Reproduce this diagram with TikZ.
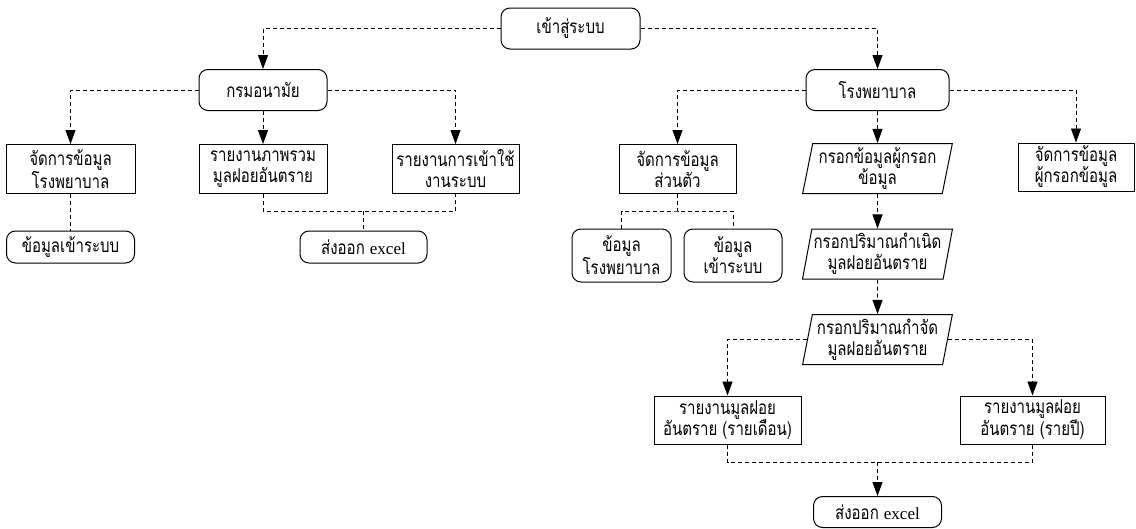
\documentclass[tikz,border=0pt]{standalone}
\usepackage{fontspec}
\setmainfont{Liberation Serif}
\newfontfamily\thaifont[Script=Thai, FakeStretch=0.79]{Loma}
\usetikzlibrary{arrows.meta,shapes.geometric}

\tikzset{
	rbox/.style={draw, rounded corners=9pt, line width=1pt, align=center, inner sep=1pt},
	sbox/.style={draw, line width=1pt, align=center, inner sep=1pt},
	iobox/.style={draw, trapezium, trapezium left angle=78, trapezium right angle=102,
		trapezium stretches=true, line width=1pt, align=center, inner sep=1pt,
		minimum width=150pt, minimum height=50pt},
	flow/.style={line width=0.9pt, dash pattern=on 4pt off 3pt},
}

\begin{document}
\begin{tikzpicture}[x=1pt, y=-1pt, >={Triangle[length=14pt,width=10pt]},
	font=\thaifont\fontsize{19}{21}\selectfont]
			\useasboundingbox (0,0) rectangle (1136,528);
			
			\node[rbox, minimum width=139pt, minimum height=41pt] (login) at (570.5,28.5) {เข้าสู่ระบบ};
			\node[rbox, minimum width=128pt, minimum height=41pt] (dept) at (263,90) {กรมอนามัย};
			\node[rbox, minimum width=143pt, minimum height=41pt] (hosp) at (877.5,90) {โรงพยาบาล};
			
			% ฝั่งกรมอนามัย
			\node[sbox, minimum width=129pt, minimum height=49pt] (hospMgmt) at (70.5,169) {จัดการข้อมูล\\โรงพยาบาล};
			\node[sbox, minimum width=128pt, minimum height=49pt] (overview) at (263,169) {รายงานภาพรวม\\มูลฝอยอันตราย};
			\node[sbox, minimum width=127pt, minimum height=49pt] (usage) at (455.5,169) {รายงานการเข้าใช้\\งานระบบ};
			\node[rbox, minimum width=128pt, minimum height=32pt] (loginData) at (70.5,247) {ข้อมูลเข้าระบบ};
			\node[rbox, minimum width=127pt, minimum height=32pt] (excelA) at (363.5,247) {ส่งออก {\rmfamily\fontsize{17}{21}\selectfont excel}};
			
			% ฝั่งโรงพยาบาล
			\node[sbox, minimum width=117pt, minimum height=49pt] (personal) at (677.5,169) {จัดการข้อมูล\\ส่วนตัว};
			\node[iobox] (inRec) at (877.5,168.5) {กรอกข้อมูลผู้กรอก\\ข้อมูล};
			\node[sbox, minimum width=116pt, minimum height=48pt] (recMgmt) at (1076,167) {จัดการข้อมูล\\ผู้กรอกข้อมูล};
			\node[rbox, minimum width=99pt, minimum height=53pt] (hospData) at (621.5,255.5) {ข้อมูล\\โรงพยาบาล};
			\node[rbox, minimum width=98pt, minimum height=53pt] (sysData) at (733,255.5) {ข้อมูล\\เข้าระบบ};
			\node[iobox] (inGen) at (877.5,254) {กรอกปริมาณกำเนิด\\มูลฝอยอันตราย};
			\node[iobox] (inDis) at (877.5,339.5) {กรอกปริมาณกำจัด\\มูลฝอยอันตราย};
			\node[sbox, minimum width=147pt, minimum height=48pt] (monthly) at (727.5,420) {รายงานมูลฝอย\\อันตราย (รายเดือน)};
			\node[sbox, minimum width=145pt, minimum height=48pt] (yearly) at (1032.5,420) {รายงานมูลฝอย\\อันตราย (รายปี)};
			\node[rbox, minimum width=128pt, minimum height=31pt] (excelB) at (877.5,512) {ส่งออก {\rmfamily\fontsize{17}{21}\selectfont excel}};
			
			\coordinate (J1) at (363.5,211);
			\coordinate (J2) at (677.5,211);
			\coordinate (J3) at (877.5,462);
			
			\draw[flow,->] (login.west) -| (dept.north);
			\draw[flow,->] (login.east) -| (hosp.north);
			
			\draw[flow,->] (dept.west) -| (hospMgmt.north);
			\draw[flow,->] (dept.south) -- (overview.north);
			\draw[flow,->] (dept.east) -| (usage.north);
			\draw[flow] (hospMgmt.south) -- (loginData.north);
			\draw[flow] (overview.south) |- (J1) -| (usage.south);
			\draw[flow] (J1) -- (excelA.north);
			
			\draw[flow,->] (hosp.west) -| (personal.north);
			\draw[flow,->] (hosp.south) -- (inRec.north);
			\draw[flow,->] (hosp.east) -| (recMgmt.north);
			\draw[flow] (personal.south) -- (J2);
			\draw[flow] (hospData.north) |- (J2) -| (sysData.north);
			\draw[flow,->] (inRec.south) -- (inGen.north);
			\draw[flow,->] (inGen.south) -- (inDis.north);
			\draw[flow,->] (inDis.west) -| (monthly.north);
			\draw[flow,->] (inDis.east) -| (yearly.north);
			\draw[flow] (monthly.south) |- (J3) -| (yearly.south);
			\draw[flow,->] (J3) -- (excelB.north);
			
		\end{tikzpicture}
\end{document}
